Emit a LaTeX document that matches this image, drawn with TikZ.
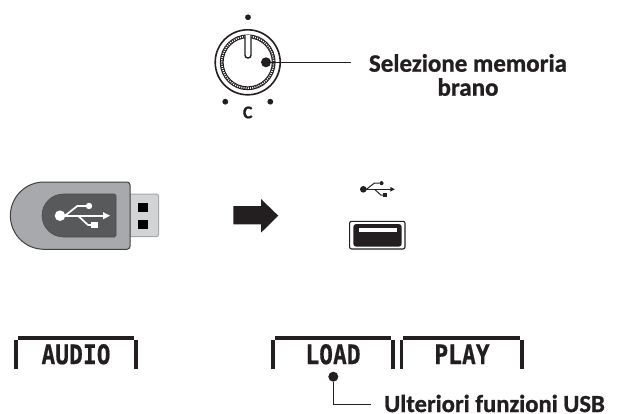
\documentclass[tikz,border=0pt]{standalone}
\usepackage{fontspec}
\setmainfont[FakeBold=1]{Carlito}
\setmonofont[FakeBold=.6]{DejaVu Sans Mono}
\definecolor{stickgray}{HTML}{A7A9AC}
\definecolor{stickdark}{HTML}{58595B}
\definecolor{plugray}{HTML}{D1D3D4}
\definecolor{inkblack}{HTML}{231F20}
\tikzset{
  callout/.style={font=\bfseries\fontsize{25}{24}\selectfont,text=inkblack,inner sep=0pt},
  lcdtext/.style={font=\ttfamily\bfseries\fontsize{27}{27}\selectfont,text=inkblack,xscale=.85,inner sep=0pt},
  lcdbar/.style={fill=inkblack,draw=none},
  leadline/.style={draw=inkblack,line width=1.4pt},
  pics/usbmark/.style 2 args={code={
    \fill[#1] (0,0) circle (5.3);
    \draw[#1,line width=#2] (0,0)--(44,0);
    \fill[#1] (43,-3.6)--(50,0)--(43,3.6)--cycle;
    \draw[#1,line width=#2] (5,0)--(17.3,-9.7)--(26,-9.7);
    \fill[#1] (29,-9.7) circle (3.2);
    \draw[#1,line width=#2] (18,0)--(28,9.3)--(31,9.3);
    \fill[#1] (31,6)rectangle(37.6,12.6);
  }}
}
\begin{document}
\begin{tikzpicture}[x=1pt,y=-1pt]
\useasboundingbox (0,0) rectangle (617,414);
% knob
\coordinate (knob) at (247.7,62.3);
\draw[inkblack,line width=1.6pt] (knob) circle (32.5);
\draw[inkblack,line width=3.8pt] (knob) circle (26);
\draw[white,line width=1.5pt,dash pattern=on 1pt off 1.2pt] (knob) circle (26);
\draw[inkblack,line width=1.4pt,fill=white,rounded corners=2.8] (245,35)--(245,58)--(251,58)--(251,35);
\foreach \x/\y in {248/17.3,225.3/101.7,270.3/101.7} \fill[inkblack] (\x,\y) circle (2.9);
\node[text=inkblack,font=\bfseries\fontsize{18}{18}\selectfont,inner sep=0pt] (knobmark) at (247.7,112.5) {C};
\node[circle,fill=inkblack,minimum size=10pt,inner sep=0pt] (memdot) at (266,62.3) {};
\coordinate (memend) at (350.7,62.3);
\draw[leadline] (memdot)--(memend);
\node[callout,align=center] (memlabel) at (468,75) {Selezione memoria\\brano};
% usb stick
\draw[draw=black!35,fill=plugray,line width=1pt,rounded corners=2.5] (125,194)--(158.7,194)--(158.7,236.7)--(125,236.7)--cycle;
\fill[black] (137.7,202.7) rectangle (148.3,211.7);
\fill[black] (137.7,220) rectangle (148.3,229);
\draw[draw=black!75,fill=stickgray,line width=1pt] (44,182) [rounded corners=3] --(130,182)--(130,249.3) [sharp corners] --(44,249.3) arc (90:270:33.65)--cycle;
\draw[draw=black!70,fill=stickdark,line width=.6pt] (63.5,194) [rounded corners=1.5] --(116,194)--(116,237) [sharp corners] --(63.5,237) arc (90:270:21.5)--cycle;
\pic at (60,215.7) {usbmark={white}{1.7pt}};
% arrow
\fill[inkblack] (233.3,206)--(261,206)--(261,199)--(278.3,215.7)--(261,232.7)--(261,224.3)--(233.3,224.3)--cycle;
% usb port
\pic[scale=.63] at (363.3,189.3) {usbmark={inkblack}{1pt}};
\draw[inkblack,line width=1.1pt,rounded corners=2] (349.6,221.3) rectangle (405,249);
\fill[inkblack,rounded corners=3] (353.3,224) rectangle (401.7,246.7);
\fill[white] (358.7,227.7) rectangle (397,232);
% lcd labels
\foreach \xa/\xb in {14/137.7,271/395,399.5/524}{
  \fill[lcdbar] (\xa+3.8,336) rectangle (\xb-3.8,339.7);
  \fill[lcdbar] (\xa,339.7) rectangle (\xa+3.8,368.7);
  \fill[lcdbar] (\xb-3.8,339.7) rectangle (\xb,368.7);
}
\node[lcdtext] (audio) at (76,354.3) {AUDIO};
\node[lcdtext] (load) at (333,354.3) {LOAD};
\node[lcdtext] (play) at (462,354.3) {PLAY};
\node[circle,fill=inkblack,minimum size=10pt,inner sep=0pt] (usbdot) at (333.3,376.7) {};
\node[callout,anchor=west,font=\bfseries\fontsize{24.6}{24}\selectfont] (usblabel) at (384,403.5) {Ulteriori funzioni USB};
\coordinate (usbend) at (371,404.3);
\draw[leadline] (usbdot)|-(usbend);
\end{tikzpicture}
\end{document}
